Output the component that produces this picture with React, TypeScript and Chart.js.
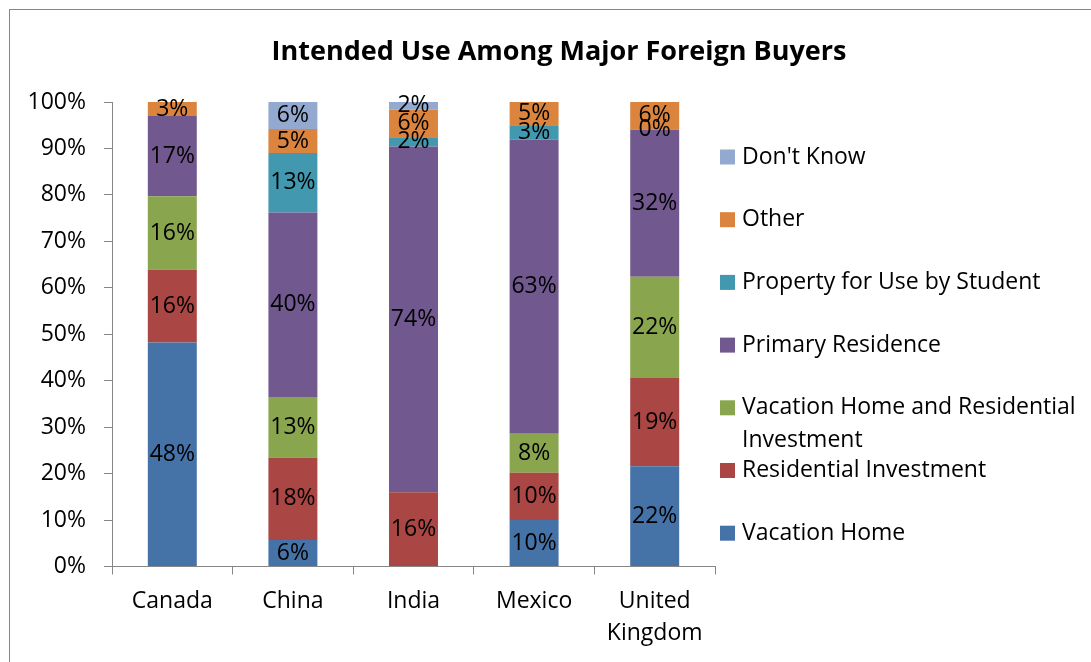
import React, { useEffect, useRef } from 'react';
import { Chart, registerables } from 'chart.js';

Chart.register(...registerables);

const categories: (string | string[])[] = ['Canada', 'China', 'India', 'Mexico', ['United', 'Kingdom']];

const seriesNames = [
  'Vacation Home',
  'Residential Investment',
  'Vacation Home and Residential Investment',
  'Primary Residence',
  'Property for Use by Student',
  'Other',
  "Don't Know",
];

const vacationHome = [48.2, 5.7, null, 10.0, 21.6];
const residentialInvestment = [15.7, 17.7, 16.0, 10.2, 19.0];
const vacationAndInvestment = [15.8, 13.1, null, 8.4, 21.8];
const primaryResidence = [17.3, 39.7, 74.4, 63.3, 31.6];
const studentProperty = [null, 12.8, 2.0, 3.1, 0];
const other = [3.0, 5.2, 6.0, 5.0, 6.0];
const dontKnow = [null, 5.8, 1.6, null, null];

const seriesColors = ['#4572A7', '#AA4643', '#89A54E', '#71588F', '#4198AF', '#DB843D', '#93A9CF'];

const titleText = 'Intended Use Among Major Foreign Buyers';

const FONT = "'Open Sans', sans-serif";

export default function App() {
  const ref = useRef<HTMLCanvasElement>(null);

  useEffect(() => {
    const series = [
      vacationHome,
      residentialInvestment,
      vacationAndInvestment,
      primaryResidence,
      studentProperty,
      other,
      dontKnow,
    ];

    const labelsPlugin = {
      id: 'segmentLabels',
      afterDatasetsDraw(chart: any) {
        const ctx = chart.ctx;
        ctx.save();
        ctx.font = `23px ${FONT}`;
        ctx.fillStyle = '#000';
        ctx.textAlign = 'center';
        ctx.textBaseline = 'middle';
        chart.data.datasets.forEach((ds: any, i: number) => {
          const meta = chart.getDatasetMeta(i);
          meta.data.forEach((el: any, j: number) => {
            const v = ds.data[j];
            if (v === null || v === undefined) return;
            const p = el.getProps(['x', 'y', 'base'], true);
            ctx.fillText(Math.round(v) + '%', p.x, (p.y + p.base) / 2);
          });
        });
        ctx.restore();
      },
    };

    const titlePlugin = {
      id: 'customTitle',
      afterDraw(chart: any) {
        const ctx = chart.ctx;
        ctx.save();
        ctx.font = `bold 27px ${FONT}`;
        ctx.fillStyle = '#000';
        ctx.textAlign = 'center';
        ctx.textBaseline = 'middle';
        ctx.fillText(titleText, 549, 42);
        ctx.restore();
      },
    };

    const legendPlugin = {
      id: 'customLegend',
      afterDraw(chart: any) {
        const ctx = chart.ctx;
        const area = chart.chartArea;
        ctx.save();
        ctx.font = `23px ${FONT}`;
        ctx.textAlign = 'left';
        ctx.textBaseline = 'middle';
        const boxX = area.right + 5;
        const textX = area.right + 27;
        const maxW = chart.width - textX - 2;
        const n = chart.data.datasets.length;
        for (let k = 0; k < n; k++) {
          const idx = n - 1 - k;
          const ds = chart.data.datasets[idx];
          const cy = area.top + 55 + k * 62.7;
          ctx.fillStyle = ds.backgroundColor;
          ctx.fillRect(boxX, cy - 7.5, 15, 15);
          ctx.fillStyle = '#000';
          const words = String(ds.label).split(' ');
          const lines: string[] = [];
          let cur = '';
          for (const w of words) {
            const t = cur ? cur + ' ' + w : w;
            if (ctx.measureText(t).width > maxW && cur) {
              lines.push(cur);
              cur = w;
            } else {
              cur = t;
            }
          }
          if (cur) lines.push(cur);
          lines.forEach((ln, li) => ctx.fillText(ln, textX, cy + li * 33));
        }
        ctx.restore();
      },
    };

    const chart = new Chart(ref.current as HTMLCanvasElement, {
      type: 'bar',
      data: {
        labels: categories as any,
        datasets: seriesNames.map((name, i) => ({
          label: name,
          data: series[i] as any,
          backgroundColor: seriesColors[i],
          borderWidth: 0,
          barPercentage: 0.406,
          categoryPercentage: 1,
        })),
      },
      options: {
        responsive: false,
        animation: false,
        devicePixelRatio: 1,
        layout: { padding: { top: 92, right: 376, left: 0, bottom: 0 } },
        plugins: {
          legend: { display: false },
          title: { display: false },
          tooltip: { enabled: false },
        },
        scales: {
          x: {
            stacked: true,
            grid: { drawOnChartArea: false, tickLength: 8, color: '#868686', offset: true },
            border: { color: '#868686' },
            ticks: {
              color: '#000',
              font: { family: FONT, size: 23, lineHeight: 32 / 23 },
              padding: 10.5,
              maxRotation: 0,
              autoSkip: false,
            },
            afterFit: (s: any) => {
              s.height = 95.5;
            },
          },
          y: {
            stacked: true,
            min: 0,
            max: 100,
            ticks: {
              stepSize: 10,
              callback: (v: any) => v + '%',
              color: '#000',
              font: { family: FONT, size: 23 },
              padding: 18,
            },
            grid: { drawOnChartArea: false, tickLength: 8, color: '#868686' },
            border: { color: '#868686' },
            afterFit: (s: any) => {
              s.width = 102;
            },
          },
        },
      } as any,
      plugins: [labelsPlugin, titlePlugin, legendPlugin],
    });

    return () => chart.destroy();
  }, []);

  return (
    <div
      style={{
        position: 'fixed',
        left: 9,
        top: 9,
        width: 1081,
        height: 652,
        borderLeft: '1px solid #868686',
        borderTop: '1px solid #868686',
        background: '#fff',
      }}
    >
      <canvas ref={ref} width={1081} height={652} style={{ display: 'block' }} />
    </div>
  );
}
